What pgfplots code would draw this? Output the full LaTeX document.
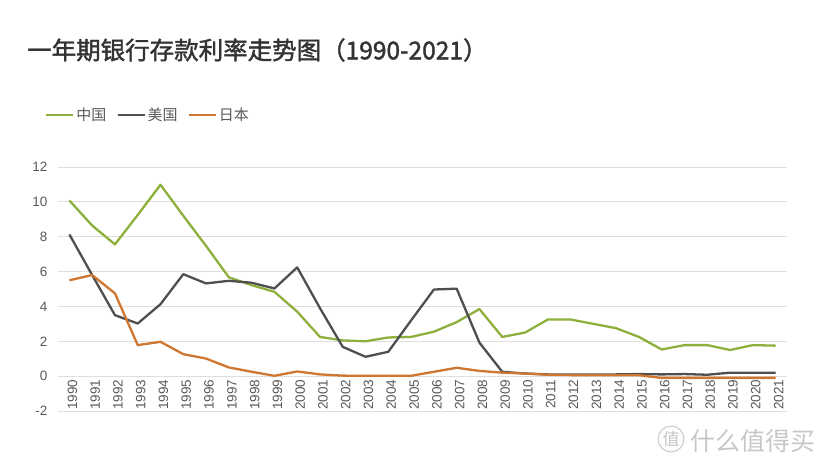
\documentclass[border=0pt]{standalone}
\usepackage{pgfplots}
\pgfplotsset{compat=1.18}
\usepackage{fontspec}
\setmainfont{Liberation Sans}
\newfontfamily\cjk{Noto Sans CJK SC}
\newfontfamily\cjkb{Noto Sans CJK SC}[FakeBold=1.6]
\definecolor{cnGreen}{HTML}{8DB03C}
\definecolor{usGray}{HTML}{4F4F4F}
\definecolor{jpOrange}{HTML}{CF7630}
\definecolor{gridc}{HTML}{DEDEDE}
\definecolor{txtc}{HTML}{595959}
\pgfplotstableread{
x year china us japan
0 1990 10.08 8.13 5.50
1 1991 8.64 5.80 5.80
2 1992 7.56 3.50 4.75
3 1993 9.25 3.02 1.78
4 1994 10.98 4.13 1.97
5 1995 9.20 5.85 1.26
6 1996 7.47 5.32 1.01
7 1997 5.67 5.47 0.50
8 1998 5.22 5.36 0.25
9 1999 4.84 5.03 0.02
10 2000 3.70 6.24 0.27
11 2001 2.25 3.90 0.10
12 2002 2.05 1.68 0.03
13 2003 2.00 1.11 0.02
14 2004 2.22 1.40 0.02
15 2005 2.25 3.20 0.02
16 2006 2.55 4.97 0.25
17 2007 3.10 5.02 0.48
18 2008 3.85 1.92 0.30
19 2009 2.25 0.25 0.20
20 2010 2.50 0.15 0.15
21 2011 3.25 0.10 0.08
22 2012 3.25 0.10 0.06
23 2013 3.00 0.10 0.05
24 2014 2.75 0.10 0.05
25 2015 2.25 0.12 0.05
26 2016 1.53 0.10 -0.10
27 2017 1.78 0.12 -0.10
28 2018 1.78 0.08 -0.10
29 2019 1.50 0.20 -0.10
30 2020 1.78 0.20 -0.10
31 2021 1.75 0.20 -0.10
}\ratedata
\begin{document}
\begin{tikzpicture}[x=1pt,y=1pt]
\useasboundingbox (0,0) rectangle (824,459);
\node[anchor=west, inner sep=0pt, text=black!80] at (27,409) {\fontsize{24.5}{28}\selectfont\cjkb 一年期银行存款利率走势图（1990-2021）};
\begin{axis}[
  at={(58pt,48pt)}, anchor=south west,
  scale only axis, width=729pt, height=244pt,
  xmin=-0.5, xmax=31.5, ymin=-2, ymax=12,
  axis x line*=middle, axis y line*=left,
  x axis line style={draw=gridc, line width=0.8pt},
  y axis line style={draw=none},
  ytick={-2,0,2,4,6,8,10,12},
  ymajorgrids, grid style={draw=gridc, line width=0.8pt},
  xtick=data,
  xticklabels from table={\ratedata}{year},
  major tick length=0pt,
  /pgf/number format/assume math mode=true,
  tick label style={font=\fontsize{13.5}{15}\selectfont, text=txtc},
  xticklabel style={rotate=90, anchor=east, xshift=0pt, yshift=-3pt},
  yticklabel style={anchor=east, xshift=-7pt},
  legend columns=3,
  legend style={at={(-0.018,1.213)}, anchor=west, draw=none, fill=none,
    font=\fontsize{15}{17}\selectfont\cjk, text=txtc,
    /tikz/every even column/.append style={column sep=8pt},
    inner sep=0pt, nodes={inner sep=2pt}},
  legend image code/.code={\draw[#1] (0pt,0pt) -- (27pt,0pt);},
  every axis plot/.append style={line width=2.3pt, line join=round, no markers},
  clip=false,
]
\addplot[cnGreen] table[x=x, y=china] {\ratedata};
\addlegendentry{中国}
\addplot[usGray] table[x=x, y=us] {\ratedata};
\addlegendentry{美国}
\addplot[jpOrange] table[x=x, y=japan] {\ratedata};
\addlegendentry{日本}
\end{axis}
\node[anchor=west, inner sep=0pt, text=black!22] at (690,18) {\fontsize{25}{28}\selectfont\cjk 什么值得买};
\node[circle, draw=black!22, line width=1pt, inner sep=1pt, text=black!22] at (671,20) {\fontsize{17}{20}\selectfont\cjk 值};
\end{tikzpicture}
\end{document}
